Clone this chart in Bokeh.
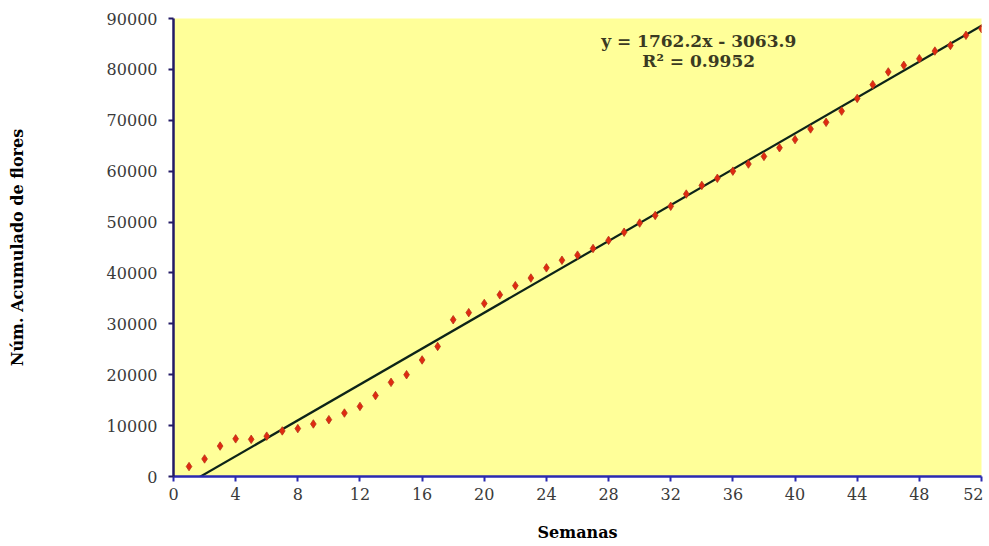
from bokeh.plotting import figure
from bokeh.models import Range1d, FixedTicker, Label
from bokeh.embed import file_html
from bokeh.resources import INLINE

weeks = list(range(1, 53))
flowers = [1950, 3450, 5980, 7400, 7300, 7930, 8960, 9410, 10320, 11170,
           12470, 13770, 15900, 18500, 20000, 22900, 25550, 30800, 32200, 34000,
           35700, 37500, 39000, 41000, 42500, 43500, 44800, 46400, 48000, 49800,
           51300, 53100, 55500, 57200, 58600, 60000, 61400, 62900, 64600, 66200,
           68300, 69600, 71800, 74300, 77000, 79500, 80800, 82100, 83600, 84700,
           86700, 88000]
slope = 1762.2
intercept = -3063.9
r2 = 0.9952
x_ticks = list(range(0, 53, 4))
y_ticks = list(range(0, 90001, 10000))

p = figure(width=983, height=544, output_backend="svg", toolbar_location=None,
           x_range=Range1d(0, 52), y_range=Range1d(0, 90000),
           min_border_left=173, min_border_right=2, min_border_top=18,
           min_border_bottom=64)
p.background_fill_color = "#ffff99"
p.border_fill_color = "white"
p.outline_line_color = None
p.grid.visible = False

# trendline
tx = [weeks[0], weeks[-1]]
ty = [slope * x + intercept for x in tx]
p.line(tx, ty, line_color="#0d2418", line_width=2.2)

# data
p.scatter(weeks, flowers, marker="diamond", size=8.5, fill_color="#e02a10",
          line_color="#b8341a", line_width=0.8)

font = "DejaVu Serif"
p.xaxis.ticker = FixedTicker(ticks=x_ticks)
p.yaxis.ticker = FixedTicker(ticks=y_ticks)
for ax in (p.xaxis[0], p.yaxis[0]):
    ax.major_label_text_font = font
    ax.major_label_text_font_size = "16px"
    ax.major_label_text_color = "#3a3a3a"
    ax.minor_tick_line_color = None
    ax.major_tick_in = 0
    ax.major_tick_out = 5
    ax.axis_label_text_font = font
    ax.axis_label_text_font_style = "bold"
    ax.axis_label_text_font_size = "16px"
    ax.axis_label_text_color = "black"
    ax.axis_line_width = 2.5
    ax.major_tick_line_width = 2

p.xaxis.axis_line_color = "#2a2ab0"
p.xaxis.major_tick_line_color = "#2a2ab0"
p.yaxis.axis_line_color = "#221a66"
p.yaxis.major_tick_line_color = "#221a66"
p.xaxis.major_label_standoff = 6
p.yaxis.major_label_standoff = 11
p.xaxis.axis_label = "Semanas"
p.yaxis.axis_label = "Núm. Acumulado de flores"
p.xaxis.axis_label_standoff = 20
p.yaxis.axis_label_standoff = 77

eq_text = f"y = {slope}x - {abs(intercept)}"
r_text = f"R² = {r2}"
p.add_layout(Label(x=33.8, y=85600, text=eq_text, text_align="center",
                   text_baseline="middle", text_font=font, text_font_style="bold",
                   text_font_size="17px", text_color="#3a3a22"))
p.add_layout(Label(x=33.8, y=81700, text=r_text, text_align="center",
                   text_baseline="middle", text_font=font, text_font_style="bold",
                   text_font_size="17px", text_color="#3a3a22"))

open("out.html", "w").write(file_html(p, INLINE))
